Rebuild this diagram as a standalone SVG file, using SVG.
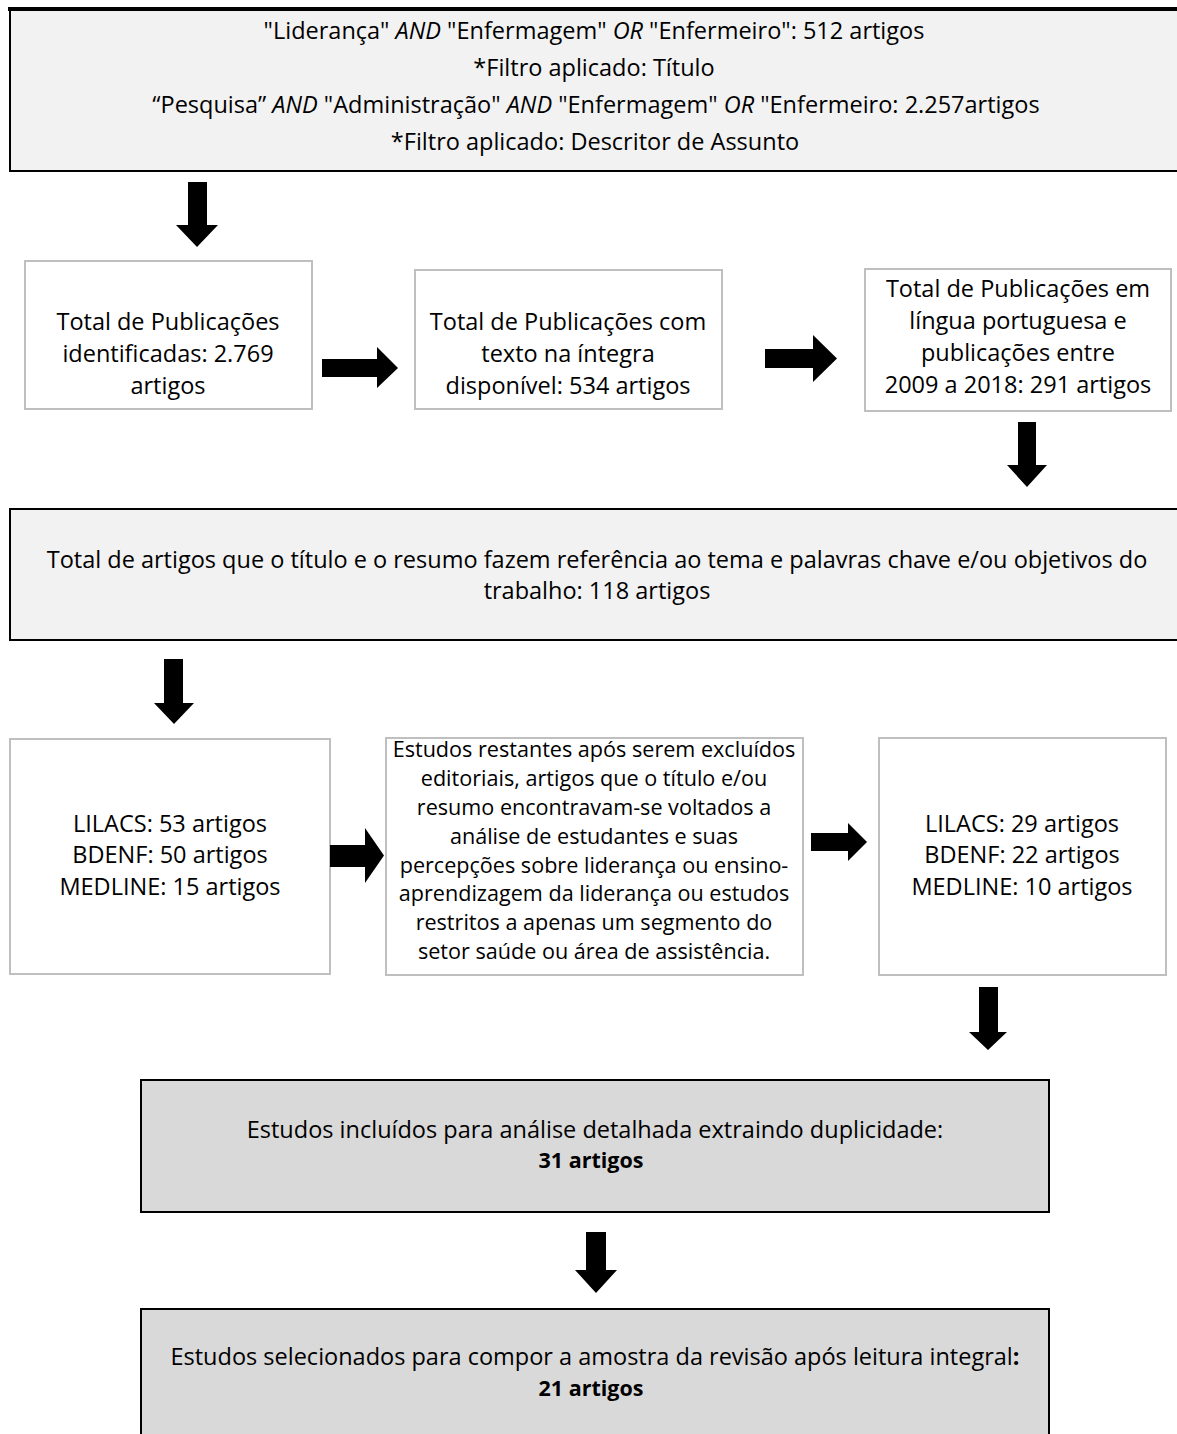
<svg xmlns="http://www.w3.org/2000/svg" width="1177" height="1434" viewBox="0 0 1177 1434">
<style>
text{font-family:"Open Sans","Liberation Sans",sans-serif;font-size:23.5px;fill:#000;text-anchor:middle}
.s{font-size:21.6px}
.gb{fill:#fff;stroke:#bfbfbf;stroke-width:2}
.kb{fill:#d9d9d9;stroke:#000;stroke-width:2}
.lf{fill:#f2f2f2}
.ln{stroke:#000;stroke-width:2;fill:none}
.ar{fill:#000}
.b{font-weight:bold;font-size:21.5px}
</style>
<rect width="1177" height="1434" fill="#fff"/>
<g id="n_search">
<rect class="lf" x="10" y="9" width="1167" height="162"/>
<line class="ln" x1="8" y1="9" x2="1177" y2="9" style="stroke-width:4"/>
<line class="ln" x1="10" y1="9" x2="10" y2="172"/>
<line class="ln" x1="9" y1="171" x2="1177" y2="171"/>
<text x="594" y="39">"Liderança" <tspan font-style="italic">AND</tspan> "Enfermagem" <tspan font-style="italic">OR</tspan> "Enfermeiro": 512 artigos</text>
<text x="594" y="76">*Filtro aplicado: Título</text>
<text x="596" y="113">“Pesquisa” <tspan font-style="italic">AND</tspan> "Administração" <tspan font-style="italic">AND</tspan> "Enfermagem" <tspan font-style="italic">OR</tspan> "Enfermeiro: 2.257artigos</text>
<text x="595" y="150">*Filtro aplicado: Descritor de Assunto</text>
</g>
<g id="n_total">
<rect class="gb" x="25" y="261" width="287" height="148"/>
<text x="168" y="330">Total de Publicações</text>
<text x="168" y="362">identificadas: 2.769</text>
<text x="168" y="394">artigos</text>
</g>
<g id="n_integra">
<rect class="gb" x="415" y="270" width="307" height="139"/>
<text x="568" y="330">Total de Publicações com</text>
<text x="568" y="362">texto na íntegra</text>
<text x="568" y="394">disponível: 534 artigos</text>
</g>
<g id="n_lingua">
<rect class="gb" x="865" y="269" width="306" height="142"/>
<text x="1018" y="297">Total de Publicações em</text>
<text x="1018" y="329">língua portuguesa e</text>
<text x="1018" y="361">publicações entre</text>
<text x="1018" y="393">2009 a 2018: 291 artigos</text>
</g>
<g id="n_titulo">
<rect class="lf" x="10" y="509" width="1167" height="131"/>
<line class="ln" x1="9" y1="509" x2="1177" y2="509"/>
<line class="ln" x1="10" y1="509" x2="10" y2="641"/>
<line class="ln" x1="9" y1="640" x2="1177" y2="640"/>
<text x="597" y="568">Total de artigos que o título e o resumo fazem referência ao tema e palavras chave e/ou objetivos do</text>
<text x="597" y="599">trabalho: 118 artigos</text>
</g>
<g id="n_bases1">
<rect class="gb" x="10" y="739" width="320" height="235"/>
<text x="170" y="832">LILACS: 53 artigos</text>
<text x="170" y="863">BDENF: 50 artigos</text>
<text x="170" y="895">MEDLINE: 15 artigos</text>
</g>
<g id="n_excluidos">
<rect class="gb" x="386" y="738" width="417" height="237"/>
<text class="s" x="594" y="757">Estudos restantes após serem excluídos</text>
<text class="s" x="594" y="786">editoriais, artigos que  o título e/ou</text>
<text class="s" x="594" y="815">resumo encontravam-se voltados a</text>
<text class="s" x="594" y="844">análise de estudantes e suas</text>
<text class="s" x="594" y="873">percepções sobre liderança ou ensino-</text>
<text class="s" x="594" y="901">aprendizagem da liderança ou estudos</text>
<text class="s" x="594" y="930">restritos a apenas um segmento do</text>
<text class="s" x="594" y="959">setor saúde ou área de assistência.</text>
</g>
<g id="n_bases2">
<rect class="gb" x="879" y="738" width="287" height="237"/>
<text x="1022" y="832">LILACS: 29 artigos</text>
<text x="1022" y="863">BDENF: 22 artigos</text>
<text x="1022" y="895">MEDLINE: 10 artigos</text>
</g>
<g id="n_incluidos">
<rect class="kb" x="141" y="1080" width="908" height="132"/>
<text x="595" y="1138">Estudos incluídos para análise detalhada extraindo duplicidade:</text>
<text class="b" x="591" y="1168">31 artigos</text>
</g>
<g id="n_selecionados">
<rect class="kb" x="141" y="1309" width="908" height="140"/>
<text x="595" y="1365">Estudos selecionados para compor a amostra da revisão após leitura integral<tspan font-weight="bold">:</tspan></text>
<text class="b" x="591" y="1396">21 artigos</text>
</g>
<g id="connectors">
<polygon class="ar" points="188,182 207,182 207,225 218,225 197,247 176,225 188,225"/>
<polygon class="ar" points="322,359 377,359 377,347 398,368 377,388 377,377 322,377"/>
<polygon class="ar" points="765,349 813,349 813,335 837,358.5 813,382 813,368 765,368"/>
<polygon class="ar" points="1018,422 1036,422 1036,465 1047,465 1027,487 1007,465 1018,465"/>
<polygon class="ar" points="164,659 183,659 183,703 194,703 174,724 154,703 164,703"/>
<polygon class="ar" points="330,845 365,845 365,828 384,855.5 365,883 365,867 330,867"/>
<polygon class="ar" points="811,833 848,833 848,823 867,842 848,861 848,851 811,851"/>
<polygon class="ar" points="979,987 998,987 998,1032 1007,1032 988,1050 969,1032 979,1032"/>
<polygon class="ar" points="586,1232 606,1232 606,1270 617,1270 596,1293 575,1270 586,1270"/>
</g>
</svg>
